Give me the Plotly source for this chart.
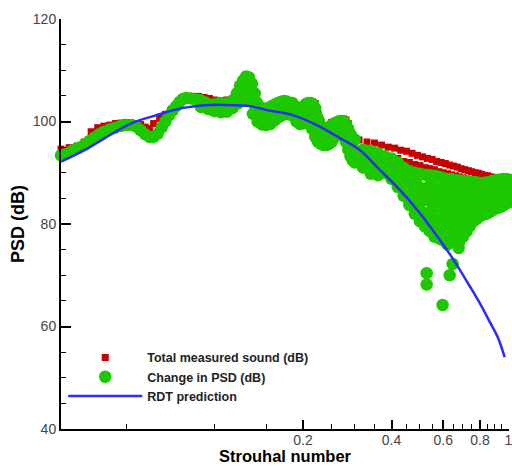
import math
import plotly.graph_objects as go

# ---------------- data ----------------
# Total measured sound (dB) - low/mid Strouhal range
red_st_low = [0.030, 0.032, 0.034, 0.036, 0.038, 0.040, 0.042, 0.044, 0.046, 0.048,
              0.050, 0.052, 0.054, 0.056, 0.058, 0.060, 0.062, 0.065, 0.068, 0.071,
              0.074, 0.077, 0.080, 0.084, 0.088, 0.092, 0.096,
              0.100, 0.105, 0.110, 0.115, 0.120, 0.125, 0.130, 0.135, 0.140, 0.145,
              0.150, 0.155, 0.160, 0.165, 0.170, 0.175, 0.180, 0.185, 0.190, 0.195,
              0.200, 0.205, 0.210, 0.215, 0.220, 0.225, 0.230, 0.235, 0.240, 0.245,
              0.250, 0.255, 0.260, 0.265, 0.270, 0.275, 0.280, 0.285, 0.290, 0.295]
red_db_low = [94.6, 94.9, 95.2, 96.0, 98.0, 98.8, 99.1, 99.3, 99.6, 99.7,
              99.8, 99.7, 99.6, 99.4, 98.9, 98.6, 99.6, 100.6, 101.4, 102.0,
              102.8, 104.2, 104.8, 104.9, 104.9, 104.7, 104.5,
              104.2, 104.1, 104.2, 104.4, 105.2, 106.8, 107.6, 106.2, 104.0, 103.0,
              102.6, 102.8, 103.2, 103.8, 104.0, 104.0, 103.8, 103.8, 103.0, 102.0,
              102.6, 103.6, 103.8, 103.8, 103.5, 101.5, 100.0, 99.2, 98.8, 99.2,
              99.8, 100.0, 100.2, 100.4, 100.5, 100.5, 100.3, 99.6, 98.5, 97.5]
# Total measured sound (dB) - high range, upper row and lower row
red_st_top = [0.31, 0.33, 0.35, 0.37, 0.39, 0.41, 0.43, 0.45, 0.47, 0.49,
              0.51, 0.53, 0.55, 0.57, 0.59, 0.61, 0.63, 0.65, 0.67, 0.69,
              0.71, 0.73, 0.75, 0.77, 0.79, 0.81, 0.83, 0.85, 0.87, 0.89,
              0.91, 0.93, 0.95, 0.97, 0.99]
red_db_top = [96.4, 96.0, 95.8, 95.4, 95.0, 94.8, 94.4, 94.2, 93.8, 93.4,
              93.1, 92.8, 92.6, 92.2, 92.0, 91.8, 91.5, 91.3, 91.1, 90.8,
              90.6, 90.4, 90.2, 90.0, 89.9, 89.7, 89.5, 89.4, 89.2, 89.1,
              89.0, 88.9, 88.8, 88.7, 88.6]
hi_st = [0.30, 0.32, 0.34, 0.36, 0.38, 0.40, 0.42, 0.44, 0.46, 0.48,
         0.50, 0.52, 0.54, 0.56, 0.58, 0.60, 0.62, 0.64, 0.66, 0.68,
         0.70, 0.72, 0.74, 0.76, 0.78, 0.80, 0.82, 0.84, 0.86, 0.88,
         0.90, 0.92, 0.94, 0.96, 0.98, 1.00]
red_db_lower = [96.0, 94.6, 94.2, 94.0, 93.4, 93.0, 92.8, 92.2, 92.0, 91.6,
                91.4, 91.0, 90.8, 90.6, 90.2, 90.0, 89.8, 89.6, 89.4, 89.2,
                89.0, 88.8, 88.6, 88.5, 88.4, 88.2, 88.0, 87.9, 87.8, 87.7,
                87.6, 87.5, 87.4, 87.3, 87.2, 87.2]

# Change in PSD (dB) - upper band, low/mid range
green_st_a = [0.0300, 0.0315, 0.0330, 0.0345, 0.0360, 0.0375, 0.0390, 0.0405, 0.0420,
              0.0440, 0.0460, 0.0480, 0.0500, 0.0520, 0.0540, 0.0560, 0.0580, 0.0600, 0.0620,
              0.0640, 0.0660, 0.0680, 0.0700, 0.0720, 0.0740, 0.0760, 0.0780, 0.0800,
              0.0830, 0.0860, 0.0890, 0.0920, 0.0950, 0.0980, 0.1010, 0.1040, 0.1070, 0.1100,
              0.1130, 0.1160, 0.1190, 0.1220, 0.1250, 0.1280, 0.1310, 0.1340, 0.1370, 0.1400,
              0.1430, 0.1460, 0.1490, 0.1520,
              0.1560, 0.1600, 0.1640, 0.1680, 0.1720, 0.1760, 0.1800, 0.1840, 0.1880, 0.1920,
              0.1960, 0.2000, 0.2040, 0.2080, 0.2120, 0.2160, 0.2200, 0.2240, 0.2280, 0.2320,
              0.2360, 0.2400,
              0.2450, 0.2500, 0.2550, 0.2600, 0.2650, 0.2700, 0.2750, 0.2800, 0.2850, 0.2900, 0.2950]
green_db_a = [93.4, 93.8, 94.4, 94.9, 95.4, 96.2, 96.9, 97.5, 98.0,
              98.5, 98.8, 99.1, 99.3, 99.3, 99.0, 98.3, 97.5, 97.0, 97.0,
              97.6, 98.8, 100.0, 101.2, 102.2, 103.0, 103.8, 104.4, 104.6,
              104.5, 104.3, 104.2, 103.8, 103.4, 103.2, 103.4, 103.6, 103.5, 103.4,
              103.8, 104.2, 105.5, 107.0, 108.0, 108.8, 108.6, 107.4, 105.5, 103.5,
              102.6, 102.2, 102.3, 102.6,
              103.0, 103.3, 103.6, 103.8, 104.0, 103.9, 103.6, 103.6, 103.0, 101.8,
              101.4, 102.4, 103.4, 103.6, 103.6, 103.4, 102.6, 100.8, 99.6, 98.8,
              98.5, 98.4,
              98.8, 99.3, 99.6, 99.8, 100.0, 100.1, 100.0, 99.4, 98.5, 97.5, 96.6]
# Change in PSD (dB) - lower band, mid range
green_st_b = [0.090, 0.095, 0.100, 0.105, 0.110, 0.115, 0.120, 0.125, 0.130, 0.135,
              0.140, 0.145, 0.150, 0.155, 0.160, 0.165, 0.170, 0.175, 0.180, 0.185,
              0.190, 0.195, 0.200, 0.205, 0.210, 0.215, 0.220, 0.225, 0.230, 0.235,
              0.240, 0.245, 0.250, 0.255, 0.260, 0.265, 0.270, 0.275, 0.280, 0.285,
              0.290, 0.295]
green_db_b = [102.8, 102.4, 102.0, 101.8, 101.9, 102.6, 103.5, 104.5, 104.0, 101.5,
              100.0, 99.4, 99.3, 99.5, 100.2, 100.8, 101.2, 101.6, 101.4, 101.0,
              100.0, 99.5, 99.6, 99.8, 99.6, 98.5, 97.0, 96.0, 95.6, 95.4,
              95.4, 95.6, 96.0, 96.8, 97.4, 97.6, 97.6, 97.2, 96.0, 94.5,
              93.2, 92.4]
# Change in PSD (dB) - middle of the band, mid range
green_st_c = [0.0925, 0.0975, 0.1025, 0.1075, 0.1125, 0.1175, 0.1225, 0.1275, 0.1325,
              0.1375, 0.1425, 0.1475, 0.1525, 0.1575, 0.1625, 0.1675, 0.1725, 0.1775,
              0.1825, 0.1875, 0.1925, 0.1975, 0.2025, 0.2075, 0.2125, 0.2175]
green_db_c = [103.2, 102.7, 102.6, 102.6, 102.9, 103.9, 105.6, 106.5, 105.4,
              103.0, 101.2, 100.8, 101.0, 101.5, 102.0, 102.4, 102.7, 102.6,
              102.4, 101.8, 100.8, 100.7, 101.4, 101.6, 101.3, 100.4]
green_st_m = [0.2225, 0.2275, 0.2325, 0.2375, 0.2425, 0.2475, 0.2525, 0.2575,
              0.2625, 0.2675, 0.2725, 0.2775, 0.2825, 0.2875, 0.2925, 0.2975]
green_db_m = [99.0, 97.5, 97.2, 97.0, 97.0, 97.4, 98.0, 98.5,
              98.8, 98.9, 98.8, 98.2, 97.0, 95.8, 94.8, 94.0]
# Change in PSD (dB) - high range, several rows
green_db_top = [96.5, 94.5, 94.3, 93.8, 93.2, 92.8, 92.0, 91.0, 90.3, 90.0,
                89.8, 89.6, 89.5, 89.4, 89.2, 89.0, 88.8, 88.8, 88.6, 88.5,
                88.4, 88.3, 88.2, 88.2, 88.1, 88.0, 88.0, 88.1, 88.2, 88.4,
                88.5, 88.6, 88.7, 88.8, 88.8, 88.7]
green_db_bottom = [92.0, 91.0, 89.8, 89.5, 90.0, 88.8, 87.2, 85.5, 83.7, 82.0,
                   80.5, 79.5, 78.6, 77.5, 77.2, 77.6, 77.8, 77.5, 76.8, 76.5,
                   77.5, 78.5, 79.6, 80.5, 81.0, 81.5, 81.8, 82.0, 82.3, 82.6,
                   83.0, 83.1, 83.3, 83.6, 84.0, 84.2]
green_db_mid = [93.0, 92.0, 91.4, 92.2, 91.0, 90.5, 88.5, 87.8, 86.0, 87.2,
                84.5, 86.0, 82.5, 84.8, 81.0, 85.5, 80.5, 84.0, 79.8, 85.0,
                82.0, 85.5, 83.0, 86.0, 84.0, 86.2, 84.5, 86.5, 85.0, 86.0,
                85.2, 86.6, 85.5, 86.5, 85.8]
green_st_d = [0.335, 0.365, 0.395, 0.425, 0.455, 0.485, 0.515, 0.545, 0.575, 0.605,
              0.635, 0.665, 0.695, 0.725, 0.755, 0.785, 0.815, 0.845, 0.875, 0.905,
              0.935, 0.965, 0.995]
green_db_d = [92.8, 92.0, 90.5, 89.8, 88.2, 88.5, 87.0, 87.8, 86.8, 87.5,
              86.5, 87.2, 86.8, 87.4, 86.8, 87.0, 86.5, 87.2, 87.0, 87.4,
              87.0, 87.2, 87.0]
green_st_e = [0.455, 0.485, 0.515, 0.545, 0.575, 0.605, 0.635, 0.665, 0.695, 0.725,
              0.755, 0.785, 0.815, 0.845, 0.875, 0.905, 0.935, 0.965, 0.995]
green_db_e = [85.0, 84.0, 82.2, 80.5, 79.5, 82.5, 83.0, 81.8, 80.2, 81.0,
              82.6, 83.0, 83.5, 84.2, 84.0, 84.6, 84.5, 85.0, 85.2]
green_st_f = [0.405, 0.425, 0.445, 0.465, 0.485, 0.505, 0.525, 0.545, 0.565, 0.585,
              0.605, 0.625, 0.645, 0.665, 0.685, 0.705, 0.725, 0.745, 0.765, 0.785,
              0.805, 0.825, 0.845, 0.865, 0.885, 0.905, 0.925, 0.945, 0.965, 0.985]
green_db_f = [91.2, 89.6, 88.8, 86.5, 87.0, 85.2, 86.8, 84.2, 85.8, 83.5,
              86.2, 84.8, 85.5, 83.8, 86.0, 84.0, 85.0, 83.2, 85.2, 84.5,
              85.8, 85.0, 86.0, 85.6, 86.2, 85.4, 86.0, 85.5, 86.3, 86.0]
green_st_g = [0.415, 0.435, 0.455, 0.475, 0.495, 0.515, 0.535, 0.555, 0.575, 0.595,
              0.615, 0.635, 0.655, 0.675, 0.695, 0.715, 0.735, 0.755, 0.775, 0.795,
              0.815, 0.835, 0.855, 0.875, 0.895, 0.915, 0.935, 0.955, 0.975, 0.995]
green_db_g = [89.0, 87.5, 86.0, 84.5, 83.0, 81.5, 81.0, 79.8, 80.5, 79.2,
              80.8, 79.6, 80.2, 78.8, 80.5, 80.0, 81.5, 82.0, 82.8, 83.2,
              82.5, 83.8, 83.2, 84.3, 84.0, 84.6, 84.2, 85.0, 84.8, 85.4]
green_st_out = [0.527, 0.527, 0.597, 0.631, 0.646, 0.677, 0.534, 0.594, 0.620]
green_db_out = [70.4, 68.2, 64.2, 70.0, 72.2, 75.3, 79.2, 76.9, 76.0]

# RDT prediction
blue_st = [0.030, 0.0371, 0.0423, 0.0523, 0.0626, 0.0774, 0.0927, 0.1154, 0.1318,
           0.1506, 0.1846, 0.2228, 0.2667, 0.312, 0.365, 0.427, 0.499, 0.584,
           0.646, 0.738, 0.800, 0.864, 0.920, 0.971]
blue_db = [92.15, 94.82, 96.77, 99.69, 101.14, 102.61, 103.19, 103.19, 103.0,
           102.22, 101.25, 99.3, 96.77, 94.43, 90.54, 86.64, 82.16, 76.9,
           73.3, 67.9, 64.5, 60.9, 57.9, 54.0]

x_tickvals = [0.2, 0.4, 0.6, 0.8, 1.0]
x_ticktext = ["0.2", "0.4", "0.6", "0.8", "1"]
x_minor = [0.05, 0.1, 0.15, 0.25, 0.3, 0.35, 0.45, 0.5, 0.55, 0.65, 0.7, 0.75,
           0.85, 0.9, 0.95]
y_tickvals = [40, 60, 80, 100, 120]
x_title = "Strouhal number"
y_title = "PSD (dB)"

# ---------------- assemble ----------------
red_st = red_st_low + red_st_top + hi_st
red_db = red_db_low + red_db_top + red_db_lower

mid_st = red_st_top  # same odd grid 0.31..0.99
green_st = (green_st_a + green_st_b + green_st_c + green_st_m + hi_st + hi_st + mid_st
            + green_st_d + green_st_e + green_st_f + green_st_g + green_st_out)
green_db = (green_db_a + green_db_b + green_db_c + green_db_m + green_db_top
            + green_db_bottom + green_db_mid + green_db_d + green_db_e
            + green_db_f + green_db_g + green_db_out)

FONT = "Liberation Sans, Arial, Helvetica, sans-serif"

fig = go.Figure()
fig.add_trace(go.Scatter(
    x=red_st, y=red_db, mode="markers", name="Total measured sound (dB)",
    marker=dict(symbol="square", size=7, color="#c80000", line=dict(width=0)),
    cliponaxis=False))
fig.add_trace(go.Scatter(
    x=green_st, y=green_db, mode="markers", name="Change in PSD (dB)",
    marker=dict(symbol="circle", size=12.5, color="#1ec800", line=dict(width=0)),
    cliponaxis=False))
fig.add_trace(go.Scatter(
    x=blue_st, y=blue_db, mode="lines", name="RDT prediction",
    line=dict(color="#2a2aff", width=2.5, shape="spline", smoothing=1.0)))

fig.update_layout(
    width=512, height=466,
    margin=dict(l=61, r=3, t=19, b=37),
    paper_bgcolor="white", plot_bgcolor="white",
    font=dict(family=FONT, color="#333"),
    showlegend=True,
    legend=dict(x=0.005, y=0.21, xanchor="left", yanchor="top",
                bgcolor="rgba(0,0,0,0)", borderwidth=0,
                font=dict(family=FONT, size=12.5, color="#222", weight="bold"),
                itemwidth=74, tracegroupgap=0),
    annotations=[dict(text=x_title, xref="paper", yref="paper", x=0.5, y=-0.0895,
                      xanchor="center", yanchor="bottom", showarrow=False,
                      borderpad=0,
                      font=dict(family=FONT, size=16.5, color="black", weight="bold"))],
)
fig.update_xaxes(
    type="log", range=[math.log10(0.03), 0.002], automargin=False,
    tickmode="array", tickvals=x_tickvals, ticktext=x_ticktext,
    ticks="inside", ticklen=9, tickwidth=2, tickcolor="black",
    showline=True, linecolor="black", linewidth=2,
    showgrid=False, zeroline=False, ticklabeloverflow="allow",
    ticklabelstandoff=-3,
    tickfont=dict(family=FONT, size=14, color="#444"),
    minor=dict(tickmode="array", tickvals=x_minor, ticks="inside", ticklen=5,
               tickwidth=1, tickcolor="black", showgrid=False),
)
fig.update_yaxes(
    range=[40, 120], automargin=False, tickmode="array", tickvals=y_tickvals,
    ticks="inside", ticklen=10, tickwidth=2, tickcolor="black",
    showline=True, linecolor="black", linewidth=2,
    showgrid=False, zeroline=False,
    tickfont=dict(family=FONT, size=14, color="#444"),
    minor=dict(dtick=5, ticks="inside", ticklen=5, tickwidth=1,
               tickcolor="black", showgrid=False),
    title=dict(text=y_title, standoff=4,
               font=dict(family=FONT, size=18, color="black", weight="bold")),
)

fig.write_html("out.html")
